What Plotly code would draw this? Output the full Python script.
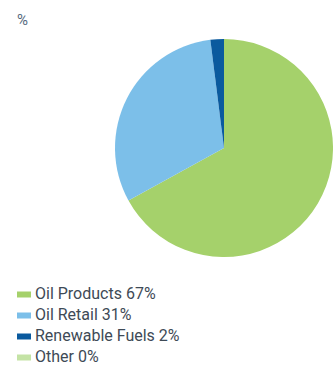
import plotly.graph_objects as go

# Segment share of comparable operating profit
labels = ["Oil Products", "Oil Retail", "Renewable Fuels", "Other"]
values = [67, 31, 2, 0]
colors = ["#a5d16b", "#7cbfe9", "#0a5a9e", "#c4e3a5"]

W, H = 333, 365
TEXT = "#3e4a56"
FONT = "Roboto, Arial, sans-serif"

fig = go.Figure()
fig.add_trace(go.Pie(
    labels=labels,
    values=values,
    marker=dict(colors=colors, line=dict(width=0)),
    sort=False,
    direction="clockwise",
    rotation=0,
    textinfo="none",
    hoverinfo="label+percent",
    showlegend=False,
    domain=dict(x=[115 / W, 333 / W], y=[1 - 257 / H, 1 - 39 / H]),
))

# Custom legend: flat rectangles with labels beneath the pie
y0, dy = 294.5, 21
for i, (lab, val, col) in enumerate(zip(labels, values, colors)):
    yc = y0 + i * dy
    fig.add_shape(type="rect", xref="paper", yref="paper",
                  x0=17 / W, x1=31 / W,
                  y0=1 - (yc + 3) / H, y1=1 - (yc - 3) / H,
                  fillcolor=col, line=dict(width=0))
    fig.add_annotation(xref="paper", yref="paper", x=34 / W, y=1 - (yc - 2) / H,
                       text=f"{lab} {val}%", showarrow=False,
                       xanchor="left", yanchor="middle", height=16,
                       borderpad=0,
                       font=dict(family=FONT, size=16, color=TEXT))

fig.add_annotation(xref="paper", yref="paper", x=15 / W, y=1 - 20 / H,
                   text="%", showarrow=False, xanchor="left", yanchor="middle",
                   font=dict(family=FONT, size=15, color="#566a7e"))

fig.update_layout(
    width=W, height=H,
    margin=dict(l=0, r=0, t=0, b=0),
    paper_bgcolor="white", plot_bgcolor="white",
)

fig.write_html("out.html")
